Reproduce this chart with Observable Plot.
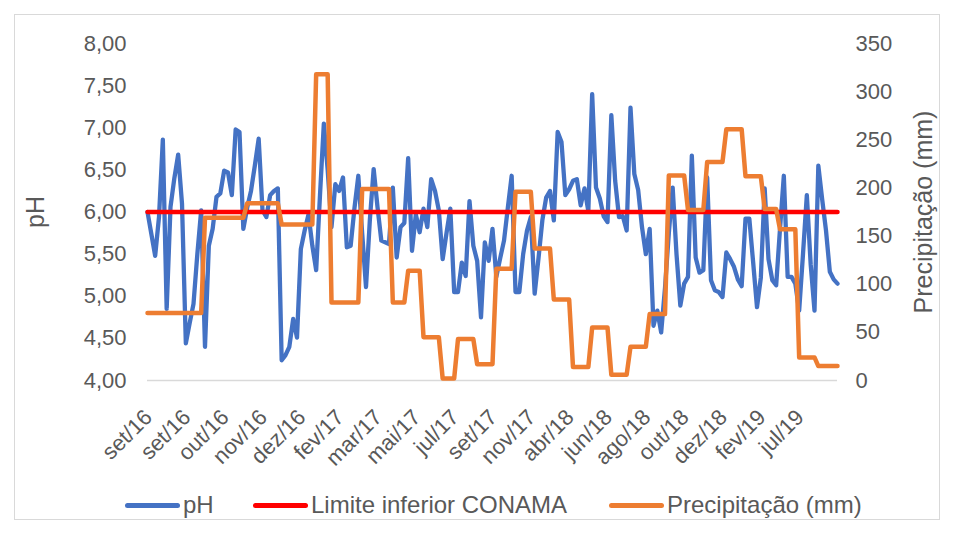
<!DOCTYPE html>
<html>
<head>
<meta charset="utf-8">
<script src="https://cdn.jsdelivr.net/npm/d3@7"></script>
<script src="https://cdn.jsdelivr.net/npm/@observablehq/plot@0.6"></script>
<style>
  html, body { margin: 0; padding: 0; background: #fff; }
  #wrap { position: relative; width: 956px; height: 535px; font-family: "Liberation Sans", Arial, sans-serif; color: #595959; overflow: hidden; }
  #border { position: absolute; left: 14px; top: 14px; width: 926px; height: 506px; border: 1px solid #d9d9d9; box-sizing: border-box; }
  #chart { position: absolute; left: 0; top: 0; }
  #legend { position: absolute; top: 490px; left: 0; width: 956px; height: 30px; font-size: 24px; }
  .item { position: absolute; top: 0; display: flex; align-items: center; height: 30px; }
  .sw { width: 55px; height: 5px; border-radius: 3px; margin-right: 3px; }
</style>
</head>
<body>
<div id="wrap">
  <div id="border"></div>
  <div id="chart"></div>
  <div id="legend">
    <div class="item" style="left:125px"><div class="sw" style="background:#4472C4"></div><span>pH</span></div>
    <div class="item" style="left:253px"><div class="sw" style="background:#FF0000"></div><span>Limite inferior CONAMA</span></div>
    <div class="item" style="left:609px"><div class="sw" style="background:#ED7D31"></div><span>Precipitação (mm)</span></div>
  </div>
</div>
<script>
// Category tick labels (every 10th sample)
const tickLabels = ["set/16","set/16","out/16","nov/16","dez/16","fev/17","mar/17","mai/17","jul/17","set/17","nov/17","abr/18","jun/18","ago/18","out/18","dez/18","fev/19","jul/19"];

// pH per sample
const ph = [
  6.00, 5.74, 5.48, 5.94, 6.86, 4.85, 6.06, 6.40, 6.68, 6.10,
  4.44, 4.68, 4.91, 5.50, 6.02, 4.40, 5.60, 5.80, 6.18, 6.22,
  6.49, 6.47, 6.20, 6.98, 6.95, 5.80, 6.05, 6.25, 6.55, 6.87,
  6.02, 5.94, 6.20, 6.25, 6.28, 4.24, 4.30, 4.40, 4.73, 4.51,
  5.56, 5.78, 5.97, 5.60, 5.31, 6.20, 7.05, 6.50, 5.82, 6.33,
  6.25, 6.41, 5.58, 5.60, 6.05, 6.43, 5.75, 5.11, 5.90, 6.51,
  6.06, 5.66, 5.64, 5.62, 6.29, 5.46, 5.82, 5.87, 6.64, 5.54,
  5.97, 5.76, 6.04, 5.82, 6.39, 6.25, 6.02, 5.44, 5.75, 6.04,
  5.05, 5.05, 5.40, 5.24, 6.13, 5.60, 5.42, 4.75, 5.64, 5.42,
  5.80, 5.23, 5.45, 5.66, 6.05, 6.43, 5.05, 5.05, 5.50, 5.78,
  5.94, 5.03, 5.45, 5.90, 6.17, 6.25, 5.90, 6.95, 6.83, 6.20,
  6.27, 6.37, 6.39, 6.08, 6.28, 6.01, 7.40, 6.29, 6.16, 5.95,
  5.88, 7.15, 6.37, 5.94, 5.95, 5.78, 7.24, 6.45, 6.26, 5.82,
  5.50, 5.80, 4.65, 4.83, 4.57, 5.10, 5.75, 6.29, 5.50, 4.89,
  5.15, 5.23, 6.67, 5.46, 5.28, 5.31, 6.41, 5.19, 5.07, 5.05,
  4.99, 5.52, 5.44, 5.35, 5.20, 5.12, 5.92, 5.92, 5.40, 4.87,
  5.22, 6.28, 5.44, 5.19, 5.13, 5.80, 6.43, 5.23, 5.23, 5.15,
  4.83, 5.50, 6.20, 5.38, 4.83, 6.55, 6.15, 5.78, 5.29, 5.20, 5.15
];

// Precipitação (mm) per sample (monthly totals repeated)
const precip = [
  70,70,70,70,70,70,70,70,70,70,70,70,70,70,70,
  169,169,169,169,169,169,169,169,169,169,169,
  184,184,184,184,184,184,184,184,184,
  162,162,162,162,162,162,162,162,162,
  318,318,318,318,
  81,81,81,81,81,81,81,81,
  199,199,199,199,199,199,199,199,
  81,81,81,81,
  114,114,114,114,
  45,45,45,45,45,
  2,2,2,2,
  43,43,43,43,43,
  17,17,17,17,17,
  116,116,116,116,116,
  196,196,196,196,196,
  137,137,137,137,137,
  84,84,84,84,84,
  14,14,14,14,14,
  55,55,55,55,55,
  6,6,6,6,6,
  35,35,35,35,35,
  69,69,69,69,69,
  213,213,213,213,213,
  177,177,177,177,177,
  227,227,227,227,227,
  261,261,261,261,261,
  212,212,212,212,212,
  178,178,178,178,
  157,157,157,157,157,
  24,24,24,24,24,
  15,15,15,15,15,15
];

const conamaLimit = 6.0;
const phTicks = [4, 4.5, 5, 5.5, 6, 6.5, 7, 7.5, 8];
const precipTicks = [0, 50, 100, 150, 200, 250, 300, 350];
const precipMax = 350;

const phMin = 4, phMax = 8;
const toPh = p => phMin + p * (phMax - phMin) / precipMax;

const phData = ph.map((v, i) => ({i, v}));
const limData = ph.map((v, i) => ({i, v: conamaLimit}));
const prData = precip.map((p, i) => ({i, v: toPh(p)}));
const xTicks = tickLabels.map((_, k) => k * 10);

const chart = Plot.plot({
  width: 956,
  height: 470,
  marginLeft: 147,
  marginRight: 119,
  marginTop: 43,
  marginBottom: 90,
  style: {fontFamily: '"Liberation Sans", Arial, sans-serif', color: "#595959", background: "transparent", overflow: "visible"},
  x: {domain: [0, ph.length - 1], axis: null},
  y: {domain: [phMin, phMax], axis: null},
  marks: [
    Plot.ruleY([phMin], {stroke: "#d9d9d9", strokeWidth: 1.3}),
    Plot.line(phData, {x: "i", y: "v", stroke: "#4472C4", strokeWidth: 4.3, strokeLinejoin: "round", strokeLinecap: "round"}),
    Plot.line(limData, {x: "i", y: "v", stroke: "#FF0000", strokeWidth: 4.5, strokeLinecap: "round"}),
    Plot.line(prData, {x: "i", y: "v", stroke: "#ED7D31", strokeWidth: 4.5, strokeLinejoin: "round", strokeLinecap: "round"}),
    Plot.axisY(phTicks, {anchor: "left", tickSize: 0, tickPadding: 21, fontSize: 22, label: null,
      tickFormat: d => d.toFixed(2).replace(".", ",")}),
    Plot.axisY(precipTicks.map(toPh), {anchor: "right", tickSize: 0, tickPadding: 18, fontSize: 22, label: null,
      tickFormat: d => String(Math.round((d - phMin) * precipMax / (phMax - phMin)))}),
    Plot.axisX(xTicks, {anchor: "bottom", tickSize: 0, tickPadding: 33, dx: 1, tickRotate: -45, fontSize: 22, label: null,
      tickFormat: d => tickLabels[Math.round(d / 10)]}),
    Plot.text(["pH"], {frameAnchor: "left", dx: -112, rotate: -90, textAnchor: "middle", fontSize: 25, fill: "#595959"}),
    Plot.text(["Precipitação (mm)"], {frameAnchor: "right", dx: 86, rotate: -90, textAnchor: "middle", fontSize: 25, fill: "#595959"})
  ]
});
document.getElementById("chart").appendChild(chart);
</script>
</body>
</html>
